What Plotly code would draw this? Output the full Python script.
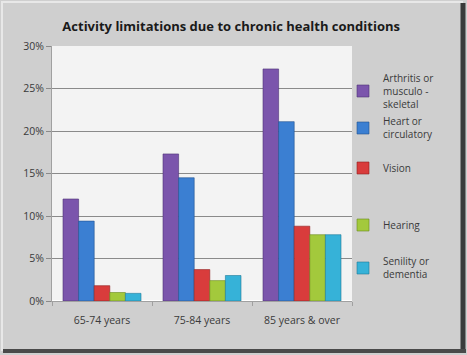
import plotly.graph_objects as go

categories = ["65-74 years", "75-84 years", "85 years & over"]
series_names = ["Arthritis or<br>musculo -<br>skeletal", "Heart or<br>circulatory", "Vision", "Hearing", "Senility or<br>dementia"]
arthritis = [12.0, 17.3, 27.3]
heart = [9.4, 14.5, 21.1]
vision = [1.8, 3.7, 8.8]
hearing = [1.0, 2.4, 7.8]
senility = [0.9, 3.0, 7.8]
tick_vals = [0, 5, 10, 15, 20, 25, 30]
tick_text = ["0%", "5%", "10%", "15%", "20%", "25%", "30%"]

colors = ["#7b55ac", "#3b7fd2", "#d93c3c", "#a3c93c", "#36b2d8"]
edges = ["#4e3377", "#22508f", "#8f2020", "#6a8a1c", "#1f7a98"]
values = [arthritis, heart, vision, hearing, senility]
legend_centers_px = [91, 128, 168, 225, 268]

W, H = 467, 355
L, R, T, B = 52, 352, 46, 301


def px(x):
    return (x - L) / (R - L)


def py(y):
    return (B - y) / (B - T)


fig = go.Figure()
legend_layout = {}
for i, (name, vals) in enumerate(zip(series_names, values)):
    lname = "legend" if i == 0 else f"legend{i + 1}"
    fig.add_trace(go.Bar(
        x=categories, y=vals, name=name,
        marker=dict(color=colors[i], line=dict(color=edges[i], width=0.6)),
        legend=lname,
    ))
    legend_layout[lname] = dict(
        x=px(343), y=py(legend_centers_px[i]), xanchor="left", yanchor="middle",
        bgcolor="rgba(0,0,0,0)", font=dict(size=10, color="#3a3a3a"),
        itemwidth=30, tracegroupgap=0,
    )

shapes = [
    dict(type="rect", xref="paper", yref="paper", x0=px(2), x1=px(462), y0=py(2), y1=py(350),
         line=dict(color="#e8e8e8", width=2), fillcolor="rgba(0,0,0,0)", layer="below"),
    dict(type="line", xref="paper", yref="paper", x0=px(463), x1=px(463), y0=py(3), y1=py(353),
         line=dict(color="#3a3a3a", width=5)),
    dict(type="line", xref="paper", yref="paper", x0=px(3), x1=px(466), y0=py(351), y1=py(351),
         line=dict(color="#4a4a4a", width=4)),
]

fig.update_layout(
    width=W, height=H,
    margin=dict(l=L, r=W - R, t=T, b=H - B, autoexpand=False),
    paper_bgcolor="#cfcfcf",
    plot_bgcolor="#f3f3f3",
    barmode="group",
    bargap=0.22,
    bargroupgap=0,
    title=dict(text="<b>Activity limitations due to chronic health conditions</b>",
               x=0.495, xanchor="center", y=0.925, yanchor="middle",
               font=dict(family="Open Sans, sans-serif", size=13, color="#1a1a1a")),
    font=dict(family="Open Sans, sans-serif", size=10.5, color="#3a3a3a"),
    xaxis=dict(showline=True, linecolor="#a0a0a0", ticks="outside", tickson="boundaries",
               ticklen=4, tickcolor="#a0a0a0", ticklabelstandoff=9,
               tickfont=dict(size=10.5), showgrid=False),
    yaxis=dict(range=[0, 30], tickvals=tick_vals, ticktext=tick_text,
               showgrid=True, gridcolor="#8a8a8a", gridwidth=1,
               showline=True, linecolor="#a0a0a0", ticks="outside", ticklen=5,
               tickcolor="#8a8a8a", tickfont=dict(size=10.5)),
    shapes=shapes,
    showlegend=True,
    **legend_layout,
)

fig.write_html("out.html", config={"displayModeBar": False},
               post_script="document.body.style.margin='0';")
